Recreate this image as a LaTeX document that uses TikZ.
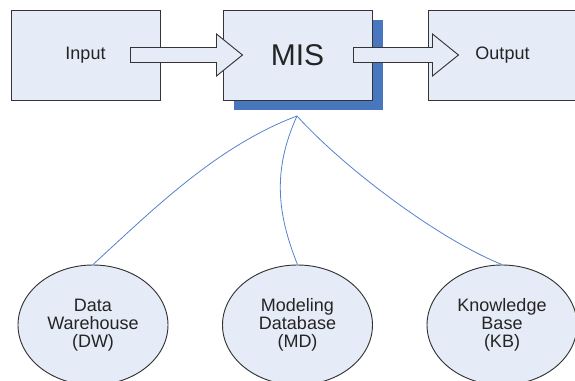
\documentclass[tikz,border=0pt]{standalone}
\usepackage{fontspec}
\setmainfont{Liberation Sans}
\usetikzlibrary{calc,shapes.geometric,shadows}
\definecolor{boxfill}{RGB}{230,236,247}
\definecolor{shadowblue}{RGB}{72,119,192}
\definecolor{linkblue}{RGB}{84,130,205}
\definecolor{edgegray}{RGB}{52,52,52}
\definecolor{textgray}{RGB}{36,36,36}
\tikzset{
  box/.style={draw=edgegray, fill=boxfill, line width=0.7pt, minimum width=111.75pt,
    minimum height=67.5pt, inner sep=0pt, text=textgray, font=\fontsize{13.5}{15}\selectfont},
  store/.style={ellipse, draw=edgegray, fill=boxfill, line width=0.7pt, minimum width=112.5pt,
    minimum height=90pt, inner sep=0pt, align=center, text=textgray,
    font=\fontsize{13.5}{13.5}\selectfont},
  blockarrow/.style={draw=edgegray, fill=boxfill, line width=0.7pt, line join=miter},
  link/.style={draw=linkblue, line width=0.6pt},
}
\begin{document}
\begin{tikzpicture}[x=0.75pt,y=-0.75pt]
		\useasboundingbox (0,0) rectangle (575,381);
		\clip (0,0) rectangle (575,381);
		%
		\node[box] (input) at (85.5,55) {Input};
		\node[box, font=\fontsize{22.5}{25}\selectfont,
		  drop shadow={shadow xshift=8.25pt, shadow yshift=-7.5pt, fill=shadowblue, opacity=1}]
		  (mis) at (297.5,55) {MIS};
		\node[box] (output) at (502.5,55) {Output};
		%
		\draw[blockarrow]   % Input -> MIS
		($(input.east)+(-30,-7.5)$) -- ++(86,0) -- ++(0,-13.5) -- ++(26,21)
		  -- ++(-26,21) -- ++(0,-13.5) -- ++(-86,0) -- cycle;
		\draw[blockarrow]   % MIS -> Output
		($(mis.east)+(-19,-7.5)$) -- ++(79,0) -- ++(0,-13.5) -- ++(26,21)
		  -- ++(-26,21) -- ++(0,-13.5) -- ++(-79,0) -- cycle;
		%
		\coordinate (hub) at (297,116);
		\node[store] (dw) at (93,325) {Data\\Warehouse\\(DW)};
		\node[store] (md) at (297.5,325) {Modeling\\Database\\(MD)};
		\node[store] (kb) at (502,325) {Knowledge\\Base\\(KB)};
		%
		\draw[link] (hub) .. controls +(-80,30) and +(60,-55) .. (dw.north);
		\draw[link] (hub) .. controls +(-25,55) and +(-20,-50) .. (md.north);
		\draw[link] (hub) .. controls +(45,50) and +(-65,-26) .. (kb.north);
\end{tikzpicture}
\end{document}
